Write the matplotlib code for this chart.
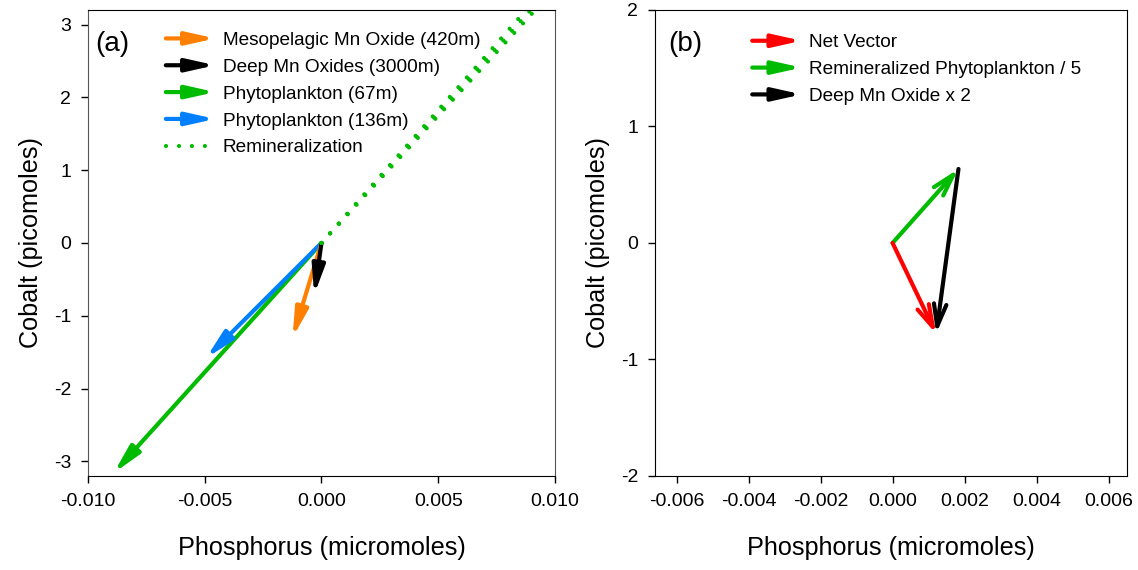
import numpy as np
import matplotlib.pyplot as plt
from matplotlib.patches import FancyArrowPatch
from matplotlib.lines import Line2D
from matplotlib.legend_handler import HandlerPatch

plt.rcParams['font.family'] = ['Liberation Sans', 'DejaVu Sans']

# panel (a): Co:P vectors (phosphorus in micromoles, cobalt in picomoles)
vec_names = ["Mesopelagic Mn Oxide (420m)", "Deep Mn Oxides (3000m)",
             "Phytoplankton (67m)", "Phytoplankton (136m)"]
vec_p = [-0.00124, -0.00031, -0.0089, -0.00494]
vec_co = [-1.30, -0.71, -3.16, -1.58]
vec_colors = ["#ff7f00", "black", "#00bb00", "#0080ff"]
draw_order = [2, 3, 0, 1]

# remineralization lines (dotted, from the origin)
remin_p = [0.0089, 0.0091, 0.0093]
remin_co = [3.25, 3.25, 3.25]

# panel (b): vector sum
green_b = (0.00183, 0.635)      # remineralized phytoplankton / 5
black_b = (-0.00062, -1.415)    # deep Mn oxide x 2
net_b = (green_b[0] + black_b[0], green_b[1] + black_b[1])

HEAD_A = '-|>,head_length=1.7,head_width=0.38'
HEAD_B = '->,head_length=1.6,head_width=0.45'
DOTS = (0, (0.01, 3.1))


def arrow_handle(legend, orig_handle, xdescent, ydescent, width, height, fontsize):
    return FancyArrowPatch((-xdescent, height / 2 - ydescent),
                           (width - xdescent, height / 2 - ydescent),
                           arrowstyle=HEAD_A, mutation_scale=10,
                           shrinkA=0, shrinkB=0)


def arrow(ax, start, end, color, style):
    a = FancyArrowPatch(start, end, arrowstyle=style, mutation_scale=10,
                        color=color, lw=3.0, shrinkA=0, shrinkB=0,
                        capstyle='round', joinstyle='round')
    ax.add_patch(a)
    return a


fig = plt.figure(figsize=(11.38, 5.70), dpi=100)
ax1 = fig.add_axes([0.0773, 0.165, 0.4104, 0.8175])
ax2 = fig.add_axes([0.5755, 0.165, 0.4145, 0.8175])

leg_kw = dict(loc="upper left", frameon=False, fontsize=13.7,
              handlelength=2.6, handletextpad=0.4, labelspacing=0.5,
              handler_map={FancyArrowPatch: HandlerPatch(patch_func=arrow_handle)})

# ---- panel (a)
for p, co in zip(remin_p, remin_co):
    ax1.plot([0, p], [0, co], color="#00bb00", lw=3.0, ls=DOTS,
             dash_capstyle='round')
for i in draw_order:
    arrow(ax1, (0, 0), (vec_p[i], vec_co[i]), vec_colors[i], HEAD_A)
handles = [FancyArrowPatch((0, 0), (1, 1), color=vec_colors[i], lw=3)
           for i in range(4)]
handles.append(Line2D([], [], color="#00bb00", lw=3.0, ls=DOTS,
                      dash_capstyle='round'))
ax1.legend(handles, vec_names + ["Remineralization"],
           bbox_to_anchor=(0.13, 0.99), **leg_kw)
ax1.set_xlim(-0.010, 0.010)
ax1.set_ylim(-3.2, 3.2)
ax1.set_xticks([-0.010, -0.005, 0.0, 0.005, 0.010])
ax1.set_xticklabels(["-0.010", "-0.005", "0.000", "0.005", "0.010"])
ax1.set_yticks([-3, -2, -1, 0, 1, 2, 3])
ax1.set_yticklabels(["-3", "-2", "-1", "0", "1", "2", "3"])
ax1.text(0.015, 0.955, "(a)", transform=ax1.transAxes, fontsize=20,
         va="top", ha="left")
for s in ["left", "right"]:
    ax1.spines[s].set_color("#555555")

# ---- panel (b)
arrow(ax2, (0, 0), green_b, "#00bb00", HEAD_B)
arrow(ax2, (0, 0), net_b, "red", HEAD_B)
arrow(ax2, green_b, net_b, "black", HEAD_B)
h2 = [FancyArrowPatch((0, 0), (1, 1), color=c, lw=3)
      for c in ["red", "#00bb00", "black"]]
ax2.legend(h2, ["Net Vector", "Remineralized Phytoplankton / 5",
                "Deep Mn Oxide x 2"], bbox_to_anchor=(0.17, 0.985), **leg_kw)
ax2.set_xlim(-0.0066, 0.0065)
ax2.set_ylim(-2, 2)
ax2.set_xticks([-0.006, -0.004, -0.002, 0.0, 0.002, 0.004, 0.006])
ax2.set_xticklabels(["-0.006", "-0.004", "-0.002", "0.000", "0.002",
                     "0.004", "0.006"])
ax2.set_yticks([-2, -1, 0, 1, 2])
ax2.set_yticklabels(["-2", "-1", "0", "1", "2"])
ax2.text(0.028, 0.955, "(b)", transform=ax2.transAxes, fontsize=20,
         va="top", ha="left")

for ax in (ax1, ax2):
    ax.tick_params(direction="out", length=5, width=1, labelsize=14, pad=7)
    ax.set_xlabel("Phosphorus (micromoles)", fontsize=18.2, labelpad=19)
    ax.set_ylabel("Cobalt (picomoles)", fontsize=18.2, labelpad=8)

fig.savefig("out.png", dpi=100)
